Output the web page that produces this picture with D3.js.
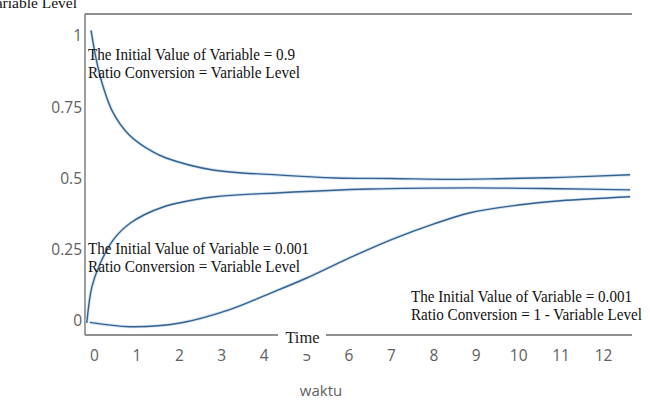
<!DOCTYPE html>
<html>
<head>
<meta charset="utf-8">
<script src="https://cdn.jsdelivr.net/npm/d3@7"></script>
<style>
  html, body { margin: 0; padding: 0; background: #fff; }
  svg { display: block; }
</style>
</head>
<body>
<svg id="chart" width="650" height="400"></svg>
<script>
// ---- data ----
const xTicks = [0, 1, 2, 3, 4, 5, 6, 7, 8, 9, 10, 11, 12];
const yTicks = [0, 0.25, 0.5, 0.75, 1];
const yTickLabels = ["0", "0.25", "0.5", "0.75", "1"];

const timeA = [-0.07, 0.05, 0.2, 0.44, 0.83, 1.38, 1.7, 2.8, 4.4, 5.7, 7, 8.4, 9.5, 11, 12.64];
const valA  = [1.02, 0.92, 0.83, 0.734, 0.653, 0.594, 0.572, 0.53, 0.512, 0.502, 0.5, 0.497, 0.499, 0.504, 0.513];

const timeB = [-0.17, -0.05, 0.14, 0.45, 0.85, 1.63, 2.8, 4.4, 6.5, 8.9, 11, 12.64];
const valB  = [-0.007, 0.12, 0.2, 0.284, 0.343, 0.4, 0.435, 0.45, 0.463, 0.467, 0.464, 0.46];

const timeC = [-0.1, 0.85, 2.03, 3.2, 4.15, 5, 6, 7, 8, 8.87, 10, 11, 12.64];
const valC  = [-0.005, -0.02, -0.007, 0.04, 0.097, 0.15, 0.22, 0.285, 0.34, 0.38, 0.407, 0.422, 0.436];

const notes = [
  ["The Initial Value of Variable = 0.9", "Ratio Conversion = Variable Level"],
  ["The Initial Value of Variable = 0.001", "Ratio Conversion = Variable Level"],
  ["The Initial Value of Variable = 0.001", "Ratio Conversion = 1 - Variable Level"]
];
const yTitle = "Variable Level";
const xInnerTitle = "Time";
const xTitle = "waktu";

// ---- drawing ----
const svg = d3.select("#chart");
const x = d3.scaleLinear().domain([0, 12]).range([94, 603]);
const y = d3.scaleLinear().domain([0, 1]).range([321, 36]);

const frame = { left: 85, top: 14, right: 632, bottom: 335 };
const axisColor = "#6b6b6b";

// frame
svg.append("line").attr("x1", frame.left).attr("x2", frame.left)
  .attr("y1", frame.top).attr("y2", frame.bottom)
  .attr("stroke", axisColor).attr("stroke-width", 1.3);
svg.append("line").attr("x1", frame.left).attr("x2", frame.right)
  .attr("y1", frame.top).attr("y2", frame.top)
  .attr("stroke", axisColor).attr("stroke-width", 1.3);
svg.append("line").attr("x1", frame.left).attr("x2", 278)
  .attr("y1", frame.bottom).attr("y2", frame.bottom)
  .attr("stroke", axisColor).attr("stroke-width", 1.3);
svg.append("line").attr("x1", 326).attr("x2", frame.right)
  .attr("y1", frame.bottom).attr("y2", frame.bottom)
  .attr("stroke", axisColor).attr("stroke-width", 1.3);

// x axis tick labels
const xAxis = d3.axisBottom(x).tickValues(xTicks).tickSize(0).tickPadding(0);
const gx = svg.append("g").attr("transform", "translate(0,350)").call(xAxis);
gx.select(".domain").remove();
gx.selectAll("text")
  .attr("font-family", "'Open Sans', sans-serif")
  .attr("font-size", 15.5)
  .attr("fill", "#606060")
  .attr("dy", "0.71em");

// y axis tick labels
const yAxis = d3.axisLeft(y).tickValues(yTicks)
  .tickFormat((d, i) => yTickLabels[i]).tickSize(0).tickPadding(0);
const gy = svg.append("g").attr("transform", "translate(82,0)").call(yAxis);
gy.select(".domain").remove();
gy.selectAll("text")
  .attr("font-family", "'Open Sans', sans-serif")
  .attr("font-size", 15.5)
  .attr("fill", "#606060");

// curves
const line = d3.line().x(d => x(d[0])).y(d => y(d[1])).curve(d3.curveCatmullRom.alpha(0.5));
const series = [
  d3.zip(timeA, valA),
  d3.zip(timeB, valB),
  d3.zip(timeC, valC)
];
svg.append("g").selectAll("path").data(series).join("path")
  .attr("d", line).attr("fill", "none")
  .attr("stroke", "#bcd3ea").attr("stroke-width", 3.2).attr("opacity", 0.6);
svg.append("g").selectAll("path").data(series).join("path")
  .attr("d", line).attr("fill", "none")
  .attr("stroke", "#34618f").attr("stroke-width", 1.4);

// annotations
const notePos = [
  { x: 88, y: 60, w: [207, 212] },
  { x: 88, y: 254, w: [221, 212] },
  { x: 411, y: 302, w: [221, 231] }
];
notes.forEach((lines, i) => {
  const p = notePos[i];
  lines.forEach((t, j) => {
    svg.append("text")
      .attr("x", p.x).attr("y", p.y + j * 18)
      .attr("font-family", "'Liberation Serif', 'Times New Roman', serif")
      .attr("font-size", 16)
      .attr("fill", "#111")
      .attr("textLength", p.w[j])
      .attr("lengthAdjust", "spacingAndGlyphs")
      .text(t);
  });
});

// titles
svg.append("text").attr("x", 77).attr("y", 8)
  .attr("text-anchor", "end")
  .attr("font-family", "'Liberation Serif', 'Times New Roman', serif")
  .attr("font-size", 15.5).attr("fill", "#111").text(yTitle);

// white box behind inner axis label (it masks the top of the tick below it, as in the reference)
svg.append("rect").attr("x", 281).attr("y", 327).attr("width", 43).attr("height", 27)
  .attr("fill", "#fff");
svg.append("text").attr("x", 302.5).attr("y", 343)
  .attr("text-anchor", "middle")
  .attr("font-family", "'Liberation Serif', 'Times New Roman', serif")
  .attr("font-size", 16.5).attr("fill", "#222").text(xInnerTitle);

svg.append("text").attr("x", 321).attr("y", 396)
  .attr("text-anchor", "middle")
  .attr("font-family", "'Open Sans', sans-serif")
  .attr("font-size", 15).attr("fill", "#5f5f5f").text(xTitle);
</script>
</body>
</html>
